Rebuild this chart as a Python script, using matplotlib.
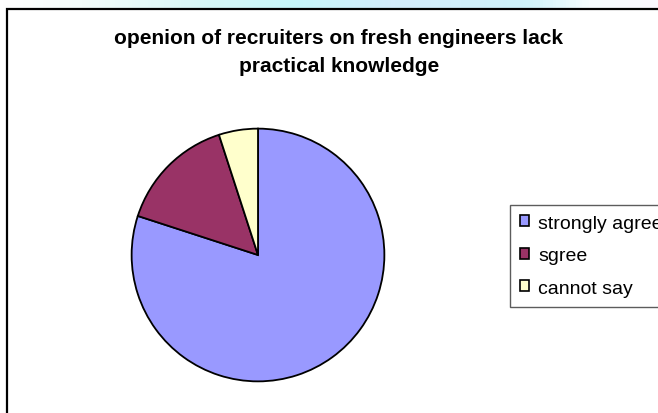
import numpy as np
import matplotlib
matplotlib.use('Agg')
import matplotlib.pyplot as plt
from matplotlib.patches import Rectangle, Patch
from matplotlib.colors import LinearSegmentedColormap

plt.rcParams['font.family'] = 'Liberation Sans'

# Survey answers
labels = ['strongly agree', 'sgree', 'cannot say']
shares = [80, 15, 5]
colors = ['#9999FF', '#993366', '#FFFFCC']
title = 'openion of recruiters on fresh engineers lack\npractical knowledge'

W, H = 658, 414
fig = plt.figure(figsize=(W / 100, H / 100), dpi=100)

# faint cyan strip along the top edge
band = fig.add_axes([0, 1 - 9 / H, 1, 9 / H])
cmap = LinearSegmentedColormap.from_list(
    'band', [(0, '#FFFFFF'), (0.12, '#F4FDFB'), (0.3, '#D8F6F6'),
             (0.45, '#C6F6FA'), (0.6, '#D4ECFC'), (0.8, '#CEF3FA'),
             (0.9, '#F6FDFE'), (1, '#FBF8FE')])
band.imshow(np.linspace(0, 1, 200)[None, :], aspect='auto', cmap=cmap)
band.axis('off')

# chart frame running off the right and bottom edges
fig.patches.append(Rectangle((7, -50), 720, H - 10 + 50, transform=None,
                             fill=False, edgecolor='black', linewidth=1.6,
                             figure=fig))

# pie: centre (258, 256) px from top-left, radius 127 px
r = 127
ax = fig.add_axes([(258 - r) / W, (H - 256 - r) / H, 2 * r / W, 2 * r / H])
ax.pie(shares, colors=colors, startangle=90, counterclock=False,
       wedgeprops=dict(edgecolor='black', linewidth=1.3))
ax.set_xlim(-1.005, 1.005)
ax.set_ylim(-1.005, 1.005)
ax.set_aspect('auto')
ax.axis('off')

fig.text(339 / W, 1 - 52.5 / H, title, ha='center', va='center',
         fontsize=15, fontweight='bold', linespacing=1.56)

handles = [Patch(facecolor=c, edgecolor='black', linewidth=1.2) for c in colors]
leg = fig.legend(handles, labels, loc='upper left',
                 bbox_to_anchor=(510 / W, 1 - 206 / H), fontsize=14,
                 frameon=True, fancybox=False, borderpad=0.5,
                 handlelength=0.5, handleheight=0.5, handletextpad=0.45,
                 labelspacing=0.8, borderaxespad=0)
leg.get_frame().set_edgecolor('#333333')
leg.get_frame().set_linewidth(1.0)

fig.savefig('out.png', dpi=100)
